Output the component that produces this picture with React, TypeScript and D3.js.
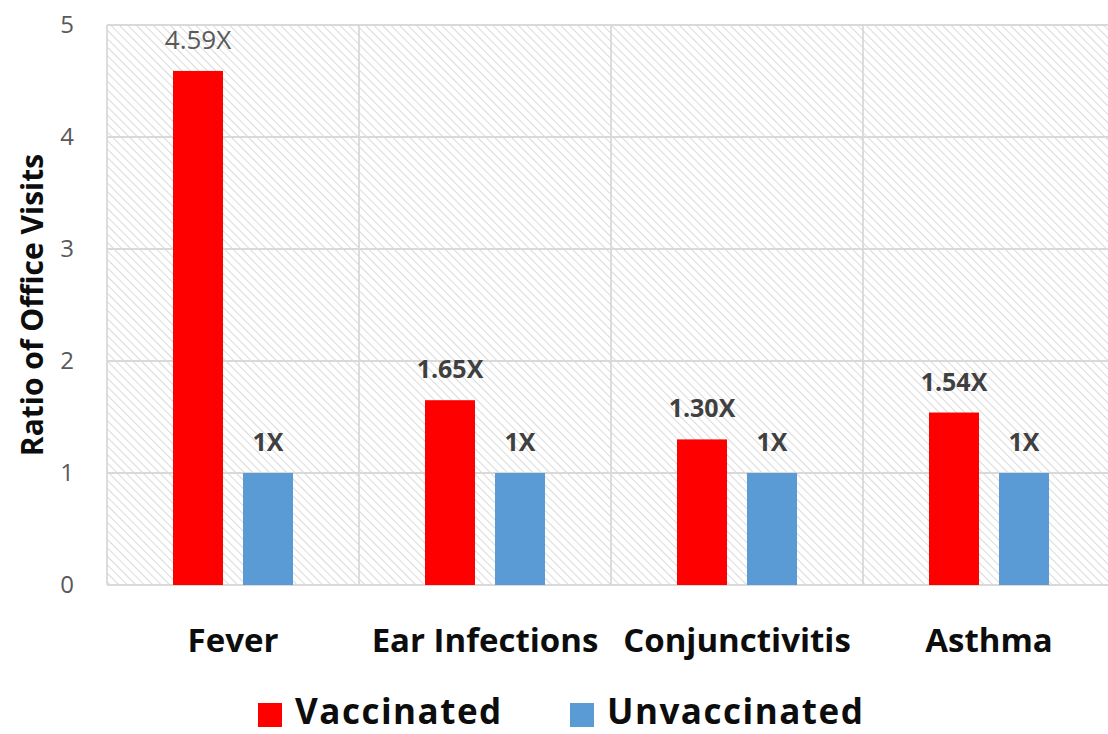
import React from "react";
import * as d3 from "d3";

const categories = ["Fever", "Ear Infections", "Conjunctivitis", "Asthma"];
const seriesNames = ["Vaccinated", "Unvaccinated"];
const vaccinated = [4.59, 1.65, 1.3, 1.54];
const unvaccinated = [1, 1, 1, 1];
const vaccinatedLabels = ["4.59X", "1.65X", "1.30X", "1.54X"];
const unvaccinatedLabels = ["1X", "1X", "1X", "1X"];
const yTicks = [0, 1, 2, 3, 4, 5];
const yTitle = "Ratio of Office Visits";

const W = 1108;
const H = 734;
const plot = { left: 107, top: 25, right: 1115, bottom: 585 };
const colors = ["#FF0000", "#5B9BD5"];
const FONT = "'Open Sans', 'DejaVu Sans', sans-serif";

export default function App() {
  const x0 = d3.scaleBand<string>().domain(categories).range([plot.left, plot.right]).padding(0);
  const x1 = d3
    .scaleBand<string>()
    .domain(seriesNames)
    .range([0, x0.bandwidth()])
    .paddingInner(0.2857)
    .paddingOuter(0.943);
  const y = d3.scaleLinear().domain([0, 5]).range([plot.bottom, plot.top]);

  const seriesValues = [vaccinated, unvaccinated];
  const seriesLabels = [vaccinatedLabels, unvaccinatedLabels];

  const boundaries = categories.map((c) => x0(c)!).concat([plot.right]);

  return (
    <svg
      width={W}
      height={H}
      style={{ position: "absolute", left: 0, top: 0, background: "#fff" }}
      fontFamily={FONT}
    >
      <defs>
        <pattern
          id="hatch"
          patternUnits="userSpaceOnUse"
          width={6}
          height={6}
          patternTransform="rotate(-45)"
        >
          <rect width={6} height={6} fill="#ffffff" />
          <line x1={0} y1={0} x2={0} y2={6} stroke="#dadada" strokeWidth={2} />
        </pattern>
      </defs>
      <rect
        x={plot.left}
        y={plot.top}
        width={plot.right - plot.left}
        height={plot.bottom - plot.top}
        fill="url(#hatch)"
      />
      {yTicks.map((t) => (
        <line
          key={"g" + t}
          x1={plot.left}
          x2={plot.right}
          y1={y(t)}
          y2={y(t)}
          stroke="#d9d9d9"
          strokeWidth={1.8}
        />
      ))}
      {boundaries.map((b, i) => (
        <line
          key={"v" + i}
          x1={b}
          x2={b}
          y1={plot.top}
          y2={plot.bottom}
          stroke="#d9d9d9"
          strokeWidth={1.8}
        />
      ))}
      {yTicks.map((t) => (
        <text
          key={"t" + t}
          x={74}
          y={y(t)}
          dy="0.35em"
          textAnchor="end"
          fontSize={24}
          fill="#595959"
        >
          {t}
        </text>
      ))}
      <text
        transform={`translate(43, ${(plot.top + plot.bottom) / 2}) rotate(-90)`}
        textAnchor="middle"
        fontSize={30}
        fontWeight={700}
        fill="#0d0d0d"
      >
        {yTitle}
      </text>
      {categories.map((c, ci) => (
        <g key={c}>
          {seriesNames.map((s, si) => {
            const v = seriesValues[si][ci];
            const bx = x0(c)! + x1(s)!;
            const bold = !(si === 0 && ci === 0);
            return (
              <g key={s}>
                <rect
                  x={bx}
                  y={y(v)}
                  width={x1.bandwidth()}
                  height={y(0) - y(v)}
                  fill={colors[si]}
                />
                <text
                  x={bx + x1.bandwidth() / 2}
                  y={y(v) - 22}
                  textAnchor="middle"
                  fontSize={bold ? 25 : 26}
                  fontWeight={bold ? 700 : 400}
                  fill={bold ? "#404040" : "#595959"}
                >
                  {seriesLabels[si][ci]}
                </text>
              </g>
            );
          })}
          <text
            x={x0(c)! + x0.bandwidth() / 2}
            y={652}
            textAnchor="middle"
            fontSize={33}
            fontWeight={700}
            fill="#0d0d0d"
          >
            {c}
          </text>
        </g>
      ))}
      {seriesNames.map((s, si) => {
        const lx = si === 0 ? 258 : 570;
        return (
          <g key={"leg" + s}>
            <rect x={lx} y={703} width={24} height={24} fill={colors[si]} />
            <text
              x={lx + 37}
              y={724}
              fontSize={35}
              fontWeight={700}
              letterSpacing={1.5}
              fill="#0d0d0d"
            >
              {s}
            </text>
          </g>
        );
      })}
    </svg>
  );
}
